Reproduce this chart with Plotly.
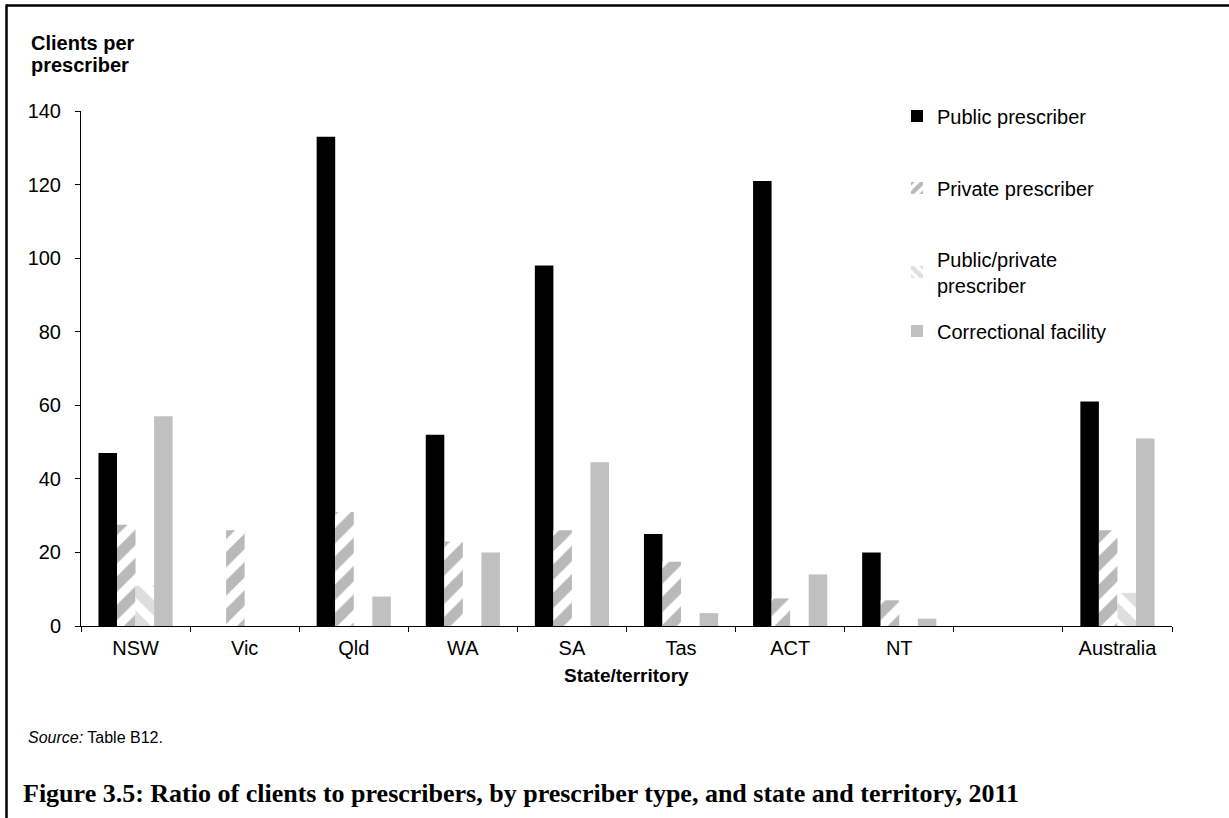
import plotly.graph_objects as go

categories = ["NSW", "Vic", "Qld", "WA", "SA", "Tas", "ACT", "NT", " ", "Australia"]
public = [47, None, 133, 52, 98, 25, 121, 20, None, 61]
private = [27.5, 26, 31, 23, 26, 17.5, 7.5, 7, None, 26]
public_private = [11, None, None, None, None, None, None, None, None, 9]
correctional = [57, None, 8, 20, 44.5, 3.5, 14, 2, None, 51]
y_ticks = [0, 20, 40, 60, 80, 100, 120, 140]

W, H = 1229, 818
L, R, T, B = 81, 1172, 111, 626


def px(p):
    return (p - L) / (R - L)


def py(p):
    return (B - p) / (B - T)


fig = go.Figure()
fig.add_trace(go.Bar(x=categories, y=public, name="Public prescriber", showlegend=True,
                     marker=dict(color="#000000", line=dict(width=0)), legend="legend"))
fig.add_trace(go.Bar(x=categories, y=private, name="Private prescriber",
                     marker=dict(color="#ffffff", line=dict(width=0),
                                 pattern=dict(shape="/", fgcolor="#737373", bgcolor="#ffffff",
                                              size=20, solidity=0.55, fillmode="overlay")),
                     legend="legend2"))
fig.add_trace(go.Bar(x=categories, y=public_private, name="Public/private<br>prescriber",
                     marker=dict(color="#ffffff", line=dict(width=0),
                                 pattern=dict(shape="\\", fgcolor="#bdbdbd", bgcolor="#ffffff",
                                              size=20, solidity=0.55, fillmode="overlay")),
                     legend="legend3"))
fig.add_trace(go.Bar(x=categories, y=correctional, name="Correctional facility",
                     marker=dict(color="#c0c0c0", line=dict(width=0)), legend="legend4"))

leg_common = dict(x=px(897), xanchor="left", yanchor="middle", bgcolor="rgba(0,0,0,0)",
                  font=dict(family="Liberation Sans, Arial, sans-serif", size=20, color="#000000"))

fig.update_layout(
    width=W, height=H,
    margin=dict(l=L, r=W - R, t=T, b=H - B),
    paper_bgcolor="#ffffff", plot_bgcolor="#ffffff",
    barmode="group", bargap=0.32, bargroupgap=0,
    showlegend=True,
    font=dict(family="Liberation Sans, Arial, sans-serif", size=20, color="#000000"),
    legend=dict(y=py(116), **leg_common),
    legend2=dict(y=py(188), **leg_common),
    legend3=dict(y=py(272), **leg_common),
    legend4=dict(y=py(331), **leg_common),
    xaxis=dict(type="category", range=[-0.5, 9.5], showline=True, linecolor="#000000",
               linewidth=1, ticks="outside", tickson="boundaries", ticklen=5,
               tickcolor="#000000", showgrid=False, zeroline=False,
               tickfont=dict(size=20), ticklabelstandoff=4),
    yaxis=dict(range=[0, 140], tickvals=y_ticks, showline=True, linecolor="#000000",
               linewidth=1, ticks="outside", ticklen=5, tickcolor="#000000",
               showgrid=False, zeroline=False, tickfont=dict(size=20),
               ticklabelstandoff=10),
    annotations=[
        dict(text="<b>Clients per</b>", xref="paper", yref="paper",
             x=px(29), y=py(43), xanchor="left", yanchor="middle",
             showarrow=False, font=dict(size=20)),
        dict(text="<b>prescriber</b>", xref="paper", yref="paper",
             x=px(29), y=py(65), xanchor="left", yanchor="middle",
             showarrow=False, font=dict(size=20)),
        dict(text="<b>State/territory</b>", xref="paper", yref="paper",
             x=0.5, y=py(675), xanchor="center", yanchor="middle",
             showarrow=False, font=dict(size=19)),
        dict(text="<i>Source:</i> Table B12.", xref="paper", yref="paper",
             x=px(26), y=py(737), xanchor="left", yanchor="middle",
             showarrow=False, font=dict(size=16)),
        dict(text="<b>Figure 3.5: Ratio of clients to prescribers, by prescriber type, and state and territory, 2011</b>",
             xref="paper", yref="paper", x=px(21), y=py(793), xanchor="left", yanchor="middle",
             showarrow=False,
             font=dict(family="Liberation Serif, Times New Roman, serif", size=26)),
    ],
    shapes=[
        dict(type="line", xref="paper", yref="paper", x0=px(6), x1=px(1235), y0=py(5.5), y1=py(5.5),
             line=dict(color="#000000", width=2.5)),
        dict(type="line", xref="paper", yref="paper", x0=px(6.5), x1=px(6.5), y0=py(4.5), y1=py(830),
             line=dict(color="#000000", width=2.5)),
    ],
)

fig.write_html(
    "out.html",
    config={"displayModeBar": False},
    post_script="document.body.style.margin='0';document.body.style.overflow='hidden';",
)
